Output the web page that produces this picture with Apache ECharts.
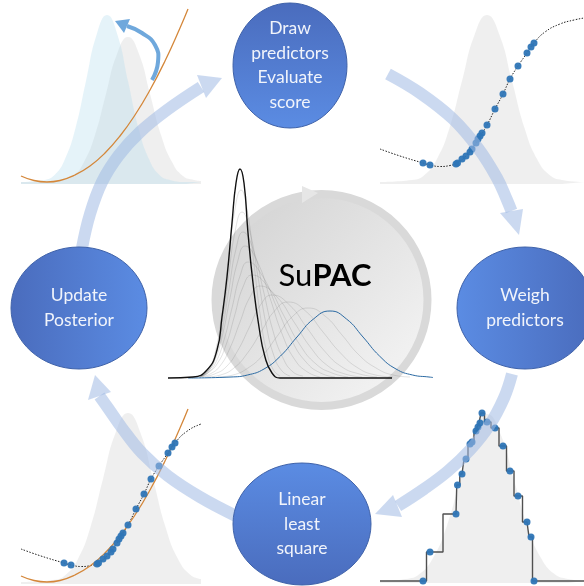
<!DOCTYPE html>
<html><head><meta charset="utf-8">
<script src="https://cdn.jsdelivr.net/npm/echarts@6/dist/echarts.min.js"></script>
<style>html,body{margin:0;padding:0;background:#fff}#c{width:584px;height:586px}</style>
</head><body><div id="c"></div>
<script>
// ---------- Data ----------
// Shared predictor positions, their scores (dotted curve) and weights (step plot)
const predictorX = [43,50,76,77.5,82,86,90,92,96,98,100,102,107,115,123,130,138,147,151,154];
const predictorScore = [19,17,18,19,23,26,30,33,39,43,46,49,57,73,88,103,116,129,135,139];
const predictorWeight = [0,29,67,96,107,122,137,139,150,154,158,168,159,153,135,110,85,59,44,0];

// score curve (dotted)
const scoreCurveX = [0,20,43,50,60,70,77,86,96,107,115,123,130,138,147,154,165,180,194,204];
const scoreCurveY = [33,26,19,17,15.5,16.5,19,26,39,57,73,88,103,116,129,139,150,158,162,164];

// least-square quadratic fit (orange)
const fitX = [0,13,26,39,54,69,84,99,114,129,144,159,167];
const fitY = [6,1.5,0,1.5,7,16,29,46,67,92,121,154,173];

// top-left: prior (grey) and updated posterior (light blue)
const tlPriorX = [0,41,52,63,74,85,96,107,118,129,140,151,162,173,180];
const tlPriorY = [0,2,6,20,47,88,128,145,128,88,47,20,6,2,1];
const tlPostX = [0,23,33.5,44,54.5,65,75.5,86,96.5,107,117.5,128,138.5,149,165,180];
const tlPostY = [0,2,7,23,54,101,147,167,147,101,54,23,7,2,0,0];

// grey sampling distributions of the other panels
const trPriorX = [0,32,44.5,57,69.5,82,94.5,107,119.5,132,144.5,157,169.5,182,204];
const trPriorY = [0,2,7,23,54,101,147,167,147,101,54,23,7,2,0];
const brPriorX = [0,26,39.5,53,66.5,80,93.5,107,120.5,134,147.5,161,174.5,188,204];
const brPriorY = [0,2,7,23,54,101,147,167,147,101,54,23,7,2,0];
const blPriorX = [0,32,44.5,57,69.5,82,94.5,107,119.5,132,144.5,157,169.5,180];
const blPriorY = [0,2,7,23,55,103,149,169,149,103,55,23,7,3];

// centre: start (black), end (blue) and the transition family (grey)
const startCurve = [[0,0],[25,1],[39,8],[49,28],[54,61],[59,101],[64,155],[68,195],[72,209],[76,195],[80,145],[85,95],[91,51],[97,21],[104,5],[112,0],[224,0]];
const endCurve = [[20,0],[63,1],[79.5,3],[96,9],[112.5,22],[129,41],[145.5,59],[162,67],[178.5,59],[195,41],[211.5,22],[228,9],[244.5,3],[261,1],[265,0.5]];
const transition1 = [[34,2],[40.5,8],[47,25],[53.5,61],[60,114],[66.5,166],[73,188],[79.5,166],[86,114],[92.5,61],[99,25],[105.5,8],[112,2]];
const transition2 = [[33.5,2],[40,7],[47,22],[54,54],[60.5,101],[67,146],[74,166],[82,146],[90,101],[98,54],[106,22],[114,7],[122,2]];
const transition3 = [[33,2],[40,6],[47,20],[54,47],[61,89],[68,129],[75,146],[85,129],[95,89],[105,47],[115,20],[125,6],[135,2]];
const transition4 = [[32,1],[39.5,6],[47,18],[54.5,43],[62,80],[69.5,116],[77,132],[89.5,116],[102,80],[114.5,43],[127,18],[139.5,6],[152,1]];
const transition5 = [[32,1],[40,5],[48,16],[56,38],[64,70],[72,102],[80,116],[94.5,102],[109,70],[123.5,38],[138,16],[152.5,5],[167,1]];
const transition6 = [[31.5,1],[40,5],[49,14],[58,33],[66.5,62],[75,91],[84,103],[100,91],[116,62],[132,33],[148,14],[164,5],[180,1]];
const transition7 = [[32,1],[42,4],[52,12],[62,30],[72,56],[82,81],[92,92],[109,81],[126,56],[143,30],[160,12],[177,4],[194,1]];
const transition8 = [[35,1],[46.5,4],[58,11],[69.5,27],[81,50],[92.5,73],[104,83],[121.5,73],[139,50],[156.5,27],[174,11],[191.5,4],[209,1]];
const transition9 = [[39,1],[52.5,3],[66,10],[79.5,25],[93,46],[106.5,67],[120,76],[137.5,67],[155,46],[172.5,25],[190,10],[207.5,3],[225,1]];
const transition10 = [[50,1],[65,3],[80,10],[95,23],[110,43],[125,62],[140,70],[157,62],[174,43],[191,23],[208,10],[225,3],[242,1]];

const stepLabels = ['Draw\npredictors\nEvaluate\nscore','Weigh\npredictors','Linear\nleast\nsquare','Update\nPosterior'];
const titleParts = ['Su','PAC'];

// ---------- helpers ----------
const zip = (xs, ys) => xs.map((x, i) => [x, ys[i]]);
const chart = echarts.init(document.getElementById('c'), null, {renderer:'canvas'});

const grids = [
  {left:21, top:2, width:180, height:182},    // 0 top-left
  {left:380, top:2, width:204, height:182},   // 1 top-right
  {left:21, top:402, width:180, height:182},  // 2 bottom-left
  {left:380, top:401, width:204, height:182}, // 3 bottom-right
  {left:168, top:168, width:265, height:212}  // 4 centre
];
const xMax = [180,204,180,204,265];
const yMax = [180,180,180,180,210];
const xAxes = grids.map((g,i)=>({gridIndex:i,type:'value',min:0,max:xMax[i],show:false}));
const yAxes = grids.map((g,i)=>({gridIndex:i,type:'value',min:-2,max:yMax[i],show:false}));

const GREY_FILL = 'rgba(190,190,190,0.25)';
function area(i, data, color){
  return {type:'line', xAxisIndex:i, yAxisIndex:i, data, smooth:true, showSymbol:false, silent:true,
    lineStyle:{width:0}, areaStyle:{color, origin:'start', opacity:1}, z:1};
}
function curve(i, data, color, width, type, z){
  return {type:'line', xAxisIndex:i, yAxisIndex:i, data, smooth:true, showSymbol:false, silent:true,
    lineStyle:{color, width, type: type||'solid'}, z: z||3};
}
function dots(i, data){
  return {type:'scatter', xAxisIndex:i, yAxisIndex:i, data, symbolSize:7, silent:true,
    itemStyle:{color:'#2e75b6', opacity:0.95}, z:5};
}

const pts = zip(predictorX, predictorScore);
const wts = zip(predictorX, predictorWeight);

const series = [
  // top-left
  area(0, zip(tlPriorX, tlPriorY), GREY_FILL),
  area(0, zip(tlPostX, tlPostY), 'rgba(180,220,238,0.35)'),
  curve(0, zip(fitX, fitY), '#d4873a', 1.3),
  // top-right
  area(1, zip(trPriorX, trPriorY), GREY_FILL),
  curve(1, zip(scoreCurveX, scoreCurveY), '#222', 1, [1.5,1.5]),
  dots(1, pts),
  // bottom-left
  area(2, zip(blPriorX, blPriorY), GREY_FILL),
  curve(2, zip(scoreCurveX, scoreCurveY), '#222', 1, [1.5,1.5]),
  curve(2, zip(fitX, fitY), '#d4873a', 1.3, 'solid', 4),
  dots(2, pts),
  // bottom-right
  area(3, zip(brPriorX, brPriorY), GREY_FILL),
  {type:'line', xAxisIndex:3, yAxisIndex:3, data:[[0,0]].concat(wts,[[204,0]]), step:'middle', showSymbol:false, silent:true,
    lineStyle:{color:'#505050', width:1.4}, z:3},
  dots(3, wts)
];
[transition1,transition2,transition3,transition4,transition5,transition6,transition7,transition8,transition9,transition10]
  .forEach(c => series.push(curve(4, c, 'rgba(90,90,90,0.35)', 0.5, 'solid', 3)));
series.push(curve(4, endCurve, '#2b6aa3', 1, 'solid', 4));
series.push(curve(4, startCurve, '#111', 1.4, 'solid', 4));

// ---------- diagram decoration ----------
const ARC = 'rgba(160,185,228,0.55)';
const DARK = '#4a6cbd', LIGHT = '#5b8ce3';
function band(points){
  return {type:'polyline', shape:{points, smooth:0.4}, style:{stroke:ARC, lineWidth:12, fill:null, lineCap:'butt'}, z:10, silent:true};
}
function head(points){
  return {type:'polygon', shape:{points}, style:{fill:ARC, stroke:null}, z:10, silent:true};
}
function node(cx, cy, rx, ry, g, label){
  return [
    {type:'ellipse', shape:{cx, cy, rx, ry}, silent:true, z:20,
      style:{fill:new echarts.graphic.LinearGradient(g[0],g[1],g[2],g[3],[{offset:0,color:DARK},{offset:1,color:LIGHT}]),
             stroke:'#3f62a9', lineWidth:1}},
    {type:'text', x:cx, y:cy, silent:true, z:21,
      style:{text:label, fill:'#f1f4fb', fontSize:17.5, fontFamily:'Lato', lineHeight:24.5, align:'center', verticalAlign:'middle'}}
  ];
}

const graphic = [
  // centre disc
  {type:'circle', shape:{cx:321.5, cy:300, r:106}, silent:true, z:1,
    style:{fill:new echarts.graphic.LinearGradient(0,0,1,1,[{offset:0,color:'#d0d0d0'},{offset:1,color:'#f8f8f8'}]), stroke:'#d9d9d9', lineWidth:8}},
  {type:'polygon', shape:{points:[[302,186],[318,193],[302,203]]}, style:{fill:'#e6e6e6'}, z:1.5, silent:true},
  {type:'text', x:325, y:276, silent:true, z:6,
    style:{text:'{a|'+titleParts[0]+'}{b|'+titleParts[1]+'}', align:'center', verticalAlign:'middle',
      rich:{a:{fontSize:31, fontFamily:'Lato', fill:'#000'}, b:{fontSize:31, fontFamily:'Lato', fontWeight:'bold', fill:'#000'}}}},
  // cycle arrows
  band([[82,248],[90,214],[102,182],[119,155],[140,132],[167,110],[201,87]]),
  head([[197,75],[222,78],[206,98]]),
  band([[388,74],[420,93],[453,119],[478,148],[497,178],[507,200],[511.5,211]]),
  head([[500,213],[523,209],[519,235]]),
  band([[512,374],[504,398],[489,426],[470,450],[448,471],[424,489],[398,506]]),
  head([[393,495],[402,517],[375,514]]),
  band([[236,516],[200,497],[168,476],[142,453],[122,428],[108,408],[99.5,396]]),
  head([[88,400],[111,392],[95,375]]),
  // small update arrow (top-left)
  {type:'polyline', shape:{points:[[152,80],[158,62],[155,45],[142,33],[127,26]], smooth:0.5},
    style:{stroke:'#6fa8dc', lineWidth:4, fill:null}, z:6, silent:true},
  {type:'polygon', shape:{points:[[130,19],[115,21],[124,33]]}, style:{fill:'#6fa8dc'}, z:6, silent:true}
].concat(
  node(290, 65.5, 57, 62.5, [0,0,0,1], stepLabels[0]),
  node(525, 308, 68, 61, [1,0,0,0], stepLabels[1]),
  node(302, 524, 69, 61, [0,1,0,0], stepLabels[2]),
  node(79, 308, 68, 61, [0,0,1,0], stepLabels[3])
);

chart.setOption({
  animation:false,
  backgroundColor:'#ffffff',
  grid:grids, xAxis:xAxes, yAxis:yAxes,
  series, graphic
});
</script></body></html>
